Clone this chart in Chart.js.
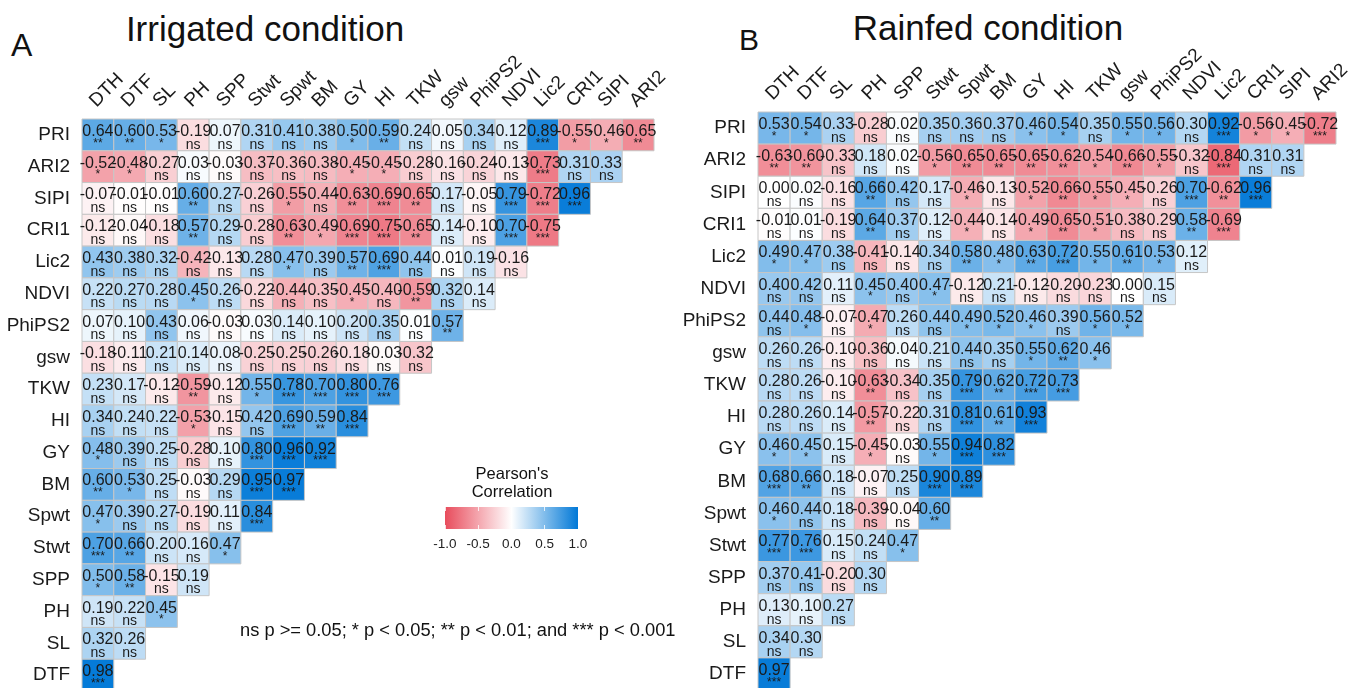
<!DOCTYPE html>
<html><head><meta charset="utf-8">
<script src="https://cdn.jsdelivr.net/npm/chart.js@4.4.1/dist/chart.umd.min.js"></script>
<style>
html,body{margin:0;padding:0;background:#fff;}
body{width:1353px;height:688px;overflow:hidden;position:relative;font-family:"Liberation Sans",Arial,sans-serif;color:#111;}
canvas{position:absolute;}
.t{position:absolute;white-space:nowrap;line-height:1;}
</style></head><body>
<div class="t" style="left:11px;top:29px;font-size:32px;">A</div>
<div class="t" style="left:0;width:530px;text-align:center;top:11px;font-size:35px;">Irrigated condition</div>
<div class="t" style="left:739px;top:25px;font-size:30px;">B</div>
<div class="t" style="left:788px;width:400px;text-align:center;top:10px;font-size:35px;">Rainfed condition</div>
<canvas id="cA" width="700" height="720" style="left:0;top:0;"></canvas>
<canvas id="cB" width="700" height="720" style="left:676px;top:0;"></canvas>
<div class="t" style="left:432px;width:160px;text-align:center;top:465px;font-size:16.5px;">Pearson's</div>
<div class="t" style="left:432px;width:160px;text-align:center;top:483px;font-size:16.5px;">Correlation</div>
<div id="bar" style="position:absolute;left:445px;top:507px;width:133px;height:22px;"></div>
<div id="barTicks"></div>
<div class="t" style="left:240px;top:621px;font-size:18.3px;">ns p &gt;= 0.05; * p &lt; 0.05; ** p &lt; 0.01; and *** p &lt; 0.001</div>
<script>
const cols = ['DTH','DTF','SL','PH','SPP','Stwt','Spwt','BM','GY','HI','TKW','gsw','PhiPS2','NDVI','Lic2','CRI1','SIPI','ARI2'];
const rows = ['PRI','ARI2','SIPI','CRI1','Lic2','NDVI','PhiPS2','gsw','TKW','HI','GY','BM','Spwt','Stwt','SPP','PH','SL','DTF'];

const irrigatedR = [
[0.64,0.60,0.53,-0.19,0.07,0.31,0.41,0.38,0.50,0.59,0.24,0.05,0.34,0.12,0.89,-0.55,-0.46,-0.65],
[-0.52,-0.48,-0.27,0.03,-0.03,-0.37,-0.36,-0.38,-0.45,-0.45,-0.28,-0.16,-0.24,-0.13,-0.73,0.31,0.33],
[-0.07,-0.01,-0.01,0.60,0.27,-0.26,-0.55,-0.44,-0.63,-0.69,-0.65,0.17,-0.05,0.79,-0.72,0.96],
[-0.12,-0.04,-0.18,0.57,0.29,-0.28,-0.63,-0.49,-0.69,-0.75,-0.65,0.14,-0.10,0.70,-0.75],
[0.43,0.38,0.32,-0.42,-0.13,0.28,0.47,0.39,0.57,0.69,0.44,0.01,0.19,-0.16],
[0.22,0.27,0.28,0.45,0.26,-0.22,-0.44,-0.35,-0.45,-0.40,-0.59,0.32,0.14],
[0.07,0.10,0.43,0.06,-0.03,0.03,0.14,0.10,0.20,0.35,0.01,0.57],
[-0.18,-0.11,0.21,0.14,0.08,-0.25,-0.25,-0.26,-0.18,-0.03,-0.32],
[0.23,0.17,-0.12,-0.59,-0.12,0.55,0.78,0.70,0.80,0.76],
[0.34,0.24,0.22,-0.53,-0.15,0.42,0.69,0.59,0.84],
[0.48,0.39,0.25,-0.28,0.10,0.80,0.96,0.92],
[0.60,0.53,0.25,-0.03,0.29,0.95,0.97],
[0.47,0.39,0.27,-0.19,0.11,0.84],
[0.70,0.66,0.20,0.16,0.47],
[0.50,0.58,-0.15,0.19],
[0.19,0.22,0.45],
[0.32,0.26],
[0.98]
];
const irrigatedP = [
['**','**','*','ns','ns','ns','ns','ns','*','**','ns','ns','ns','ns','***','*','*','**'],
['*','*','ns','ns','ns','ns','ns','ns','*','*','ns','ns','ns','ns','***','ns','ns'],
['ns','ns','ns','**','ns','ns','*','ns','**','***','**','ns','ns','***','***','***'],
['ns','ns','ns','**','ns','ns','**','*','***','***','**','ns','ns','***','***'],
['ns','ns','ns','ns','ns','ns','*','ns','**','***','ns','ns','ns','ns'],
['ns','ns','ns','*','ns','ns','ns','ns','*','ns','**','ns','ns'],
['ns','ns','ns','ns','ns','ns','ns','ns','ns','ns','ns','**'],
['ns','ns','ns','ns','ns','ns','ns','ns','ns','ns','ns'],
['ns','ns','ns','**','ns','*','***','***','***','***'],
['ns','ns','ns','*','ns','ns','***','**','***'],
['*','ns','ns','ns','ns','***','***','***'],
['**','*','ns','ns','ns','***','***'],
['*','ns','ns','ns','ns','***'],
['***','**','ns','ns','*'],
['*','**','ns','ns'],
['ns','ns','*'],
['ns','ns'],
['***']
];

const rainfedR = [
[0.53,0.54,0.33,-0.28,0.02,0.35,0.36,0.37,0.46,0.54,0.35,0.55,0.56,0.30,0.92,-0.56,-0.45,-0.72],
[-0.63,-0.60,-0.33,0.18,0.02,-0.56,-0.65,-0.65,-0.65,-0.62,-0.54,-0.66,-0.55,-0.32,-0.84,0.31,0.31],
[0.00,0.02,-0.16,0.66,0.42,0.17,-0.46,-0.13,-0.52,-0.66,-0.55,-0.45,-0.26,0.70,-0.62,0.96],
[-0.01,0.01,-0.19,0.64,0.37,0.12,-0.44,-0.14,-0.49,-0.65,-0.51,-0.38,-0.29,0.58,-0.69],
[0.49,0.47,0.38,-0.41,-0.14,0.34,0.58,0.48,0.63,0.72,0.55,0.61,0.53,0.12],
[0.40,0.42,0.11,0.45,0.40,0.47,-0.12,0.21,-0.12,-0.20,-0.23,0.00,0.15],
[0.44,0.48,-0.07,-0.47,0.26,0.44,0.49,0.52,0.46,0.39,0.56,0.52],
[0.26,0.26,-0.10,-0.36,0.04,0.21,0.44,0.35,0.55,0.62,0.46],
[0.28,0.26,-0.10,-0.63,-0.34,0.35,0.79,0.62,0.72,0.73],
[0.28,0.26,0.14,-0.57,-0.22,0.31,0.81,0.61,0.93],
[0.46,0.45,0.15,-0.45,-0.03,0.55,0.94,0.82],
[0.68,0.66,0.18,-0.07,0.25,0.90,0.89],
[0.46,0.44,0.18,-0.39,-0.04,0.60],
[0.77,0.76,0.15,0.24,0.47],
[0.37,0.41,-0.20,0.30],
[0.13,0.10,0.27],
[0.34,0.30],
[0.97]
];
const rainfedP = [
['*','*','ns','ns','ns','ns','ns','ns','*','*','ns','*','*','ns','***','*','*','***'],
['**','**','ns','ns','ns','*','**','**','**','**','*','**','*','ns','***','ns','ns'],
['ns','ns','ns','**','ns','ns','*','ns','*','**','*','*','ns','***','**','***'],
['ns','ns','ns','**','ns','ns','*','ns','*','**','*','ns','ns','**','***'],
['*','*','ns','ns','ns','ns','**','*','**','***','*','**','*','ns'],
['ns','ns','ns','*','ns','*','ns','ns','ns','ns','ns','ns','ns'],
['ns','*','ns','*','ns','ns','*','*','*','ns','*','*'],
['ns','ns','ns','ns','ns','ns','ns','ns','*','**','*'],
['ns','ns','ns','**','ns','ns','***','**','***','***'],
['ns','ns','ns','**','ns','ns','***','**','***'],
['*','*','ns','*','ns','*','***','***'],
['***','**','ns','ns','ns','***','***'],
['*','ns','ns','ns','ns','**'],
['***','***','ns','ns','*'],
['ns','ns','ns','ns'],
['ns','ns','ns'],
['ns','ns'],
['***']
];
const legendTicks = [-1.0, -0.5, 0.0, 0.5, 1.0];

const LOW = [232, 76, 92], HIGH = [0, 120, 215];
function fillFor(v){
  const c = v < 0 ? LOW : HIGH;
  const t = Math.min(1, Math.abs(v));
  return 'rgb(' + c.map(k => Math.round(255 + (k - 255) * t)).join(',') + ')';
}
const FONT = '"Liberation Sans", Arial, sans-serif';
Chart.defaults.font.family = FONT;

// colour bar legend
document.getElementById('bar').style.background =
  'linear-gradient(to right,' + legendTicks.map(v => fillFor(v)).join(',') + ')';
const bt = document.getElementById('barTicks');
legendTicks.forEach(v => {
  const x = 445 + (v + 1) / 2 * 133;
  const d = document.createElement('div');
  d.className = 't';
  d.style.cssText = 'left:' + (x - 25) + 'px;width:50px;text-align:center;top:537px;font-size:13.5px;color:#222;';
  d.textContent = v.toFixed(1);
  bt.appendChild(d);
  ['507px','525px'].forEach(tp => {
    const m = document.createElement('div');
    m.style.cssText = 'position:absolute;left:' + (x - 0.5) + 'px;top:' + tp + ';width:1px;height:4px;background:rgba(255,255,255,0.8);';
    bt.appendChild(m);
  });
});

const cellText = {
  id: 'cellText',
  afterDatasetsDraw(chart){
    const ctx = chart.ctx;
    const ds = chart.data.datasets[0];
    const meta = chart.getDatasetMeta(0);
    const cell = chart.chartArea.width / cols.length;
    ctx.save();
    ctx.fillStyle = '#1a1a1a';
    ctx.textAlign = 'center';
    ctx.textBaseline = 'alphabetic';
    meta.data.forEach((pt, k) => {
      const d = ds.data[k];
      ctx.font = '16px ' + FONT;
      ctx.fillText(d.v.toFixed(2), pt.x, pt.y + cell * 0.03);
      if (d.s === 'ns') {
        ctx.font = '14px ' + FONT;
        ctx.fillText('ns', pt.x, pt.y + cell * 0.43);
      } else {
        ctx.font = '12px ' + FONT;
        ctx.fillText(d.s, pt.x, pt.y + cell * 0.37);
      }
    });
    ctx.restore();
  }
};

function build(id, R, P, axisW, axisH, gridSize){
  const pts = [];
  R.forEach((row, i) => row.forEach((v, j) => pts.push({x: cols[j], y: rows[i], v: v, s: P[i][j]})));
  const rad = c => (c.chart.chartArea ? c.chart.chartArea.width / cols.length : 32) / Math.SQRT2;
  const canvas = document.getElementById(id);
  return new Chart(canvas, {
    type: 'scatter',
    data: {datasets: [{
      data: pts, pointStyle: 'rect', pointRadius: rad, pointHoverRadius: rad,
      backgroundColor: c => fillFor(c.raw.v), borderColor: '#c6c6c6', borderWidth: 1,
      hoverBorderWidth: 1, clip: false
    }]},
    options: {
      responsive: false, animation: false, events: [],
      layout: {padding: {left: 0, top: 0, right: canvas.width - axisW - gridSize, bottom: canvas.height - axisH - gridSize}},
      plugins: {legend: {display: false}, tooltip: {enabled: false}},
      scales: {
        x: {type: 'category', labels: cols, position: 'top', offset: true,
            grid: {display: false, drawTicks: false}, border: {display: false},
            ticks: {autoSkip: false, minRotation: 45, maxRotation: 45, padding: 7, labelOffset: 11, color: '#1a1a1a', font: {size: 19}},
            afterFit: s => { s.height = axisH; }},
        y: {type: 'category', labels: rows, offset: true,
            grid: {display: false, drawTicks: false}, border: {display: false},
            ticks: {autoSkip: false, padding: 12, color: '#1a1a1a', font: {size: 19}},
            afterFit: s => { s.width = axisW; }}
      }
    },
    plugins: [cellText]
  });
}
build('cA', irrigatedR, irrigatedP, 82, 119, 572);
build('cB', rainfedR, rainfedP, 82, 112, 578);
</script>
</body></html>
